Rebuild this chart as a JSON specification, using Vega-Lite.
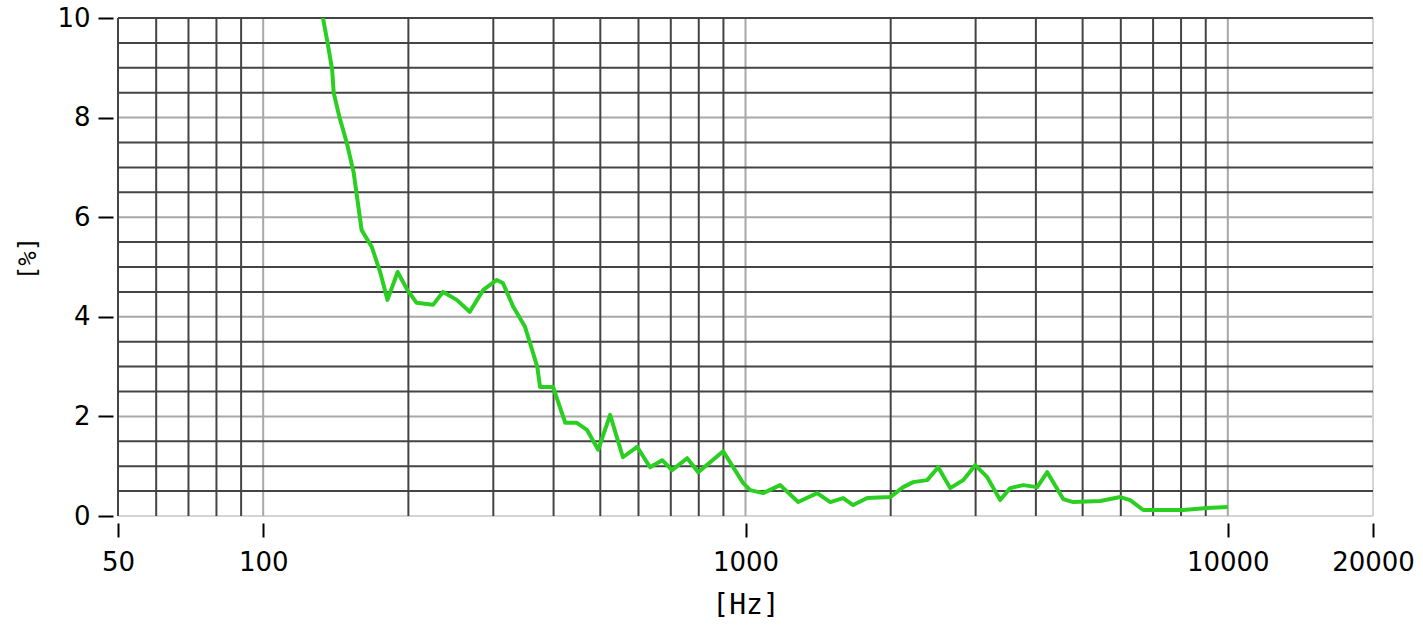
{
  "$schema": "https://vega.github.io/schema/vega-lite/v6.json",
  "autosize": "none",
  "width": 1255,
  "height": 498,
  "padding": {"left": 118, "top": 18, "right": 50, "bottom": 115},
  "background": "white",
  "config": {"view": {"stroke": null}},
  "datasets": {
    "darkV": [{"f": 50}, {"f": 60}, {"f": 70}, {"f": 80}, {"f": 90}, {"f": 200}, {"f": 300}, {"f": 400}, {"f": 500}, {"f": 600}, {"f": 700}, {"f": 800}, {"f": 900}, {"f": 2000}, {"f": 3000}, {"f": 4000}, {"f": 5000}, {"f": 6000}, {"f": 7000}, {"f": 8000}, {"f": 9000}],
    "grayV": [{"f": 100}, {"f": 1000}, {"f": 10000}],
    "edgeV": [{"f": 20000}],
    "darkH": [{"v": 0.5}, {"v": 1}, {"v": 1.5}, {"v": 2.5}, {"v": 3}, {"v": 3.5}, {"v": 4.5}, {"v": 5}, {"v": 5.5}, {"v": 6.5}, {"v": 7}, {"v": 7.5}, {"v": 8.5}, {"v": 9}, {"v": 9.5}, {"v": 10}],
    "grayH": [{"v": 2}, {"v": 4}, {"v": 6}, {"v": 8}],
    "edgeH": [{"v": 0}],
    "curve": [
      {"f": 133, "v": 10.0}, {"f": 136, "v": 9.5}, {"f": 139, "v": 8.96}, {"f": 140, "v": 8.5}, {"f": 144, "v": 8.0},
      {"f": 149, "v": 7.5}, {"f": 154, "v": 6.9}, {"f": 160, "v": 5.74}, {"f": 168, "v": 5.4}, {"f": 175, "v": 4.88},
      {"f": 181, "v": 4.34}, {"f": 190, "v": 4.9}, {"f": 199, "v": 4.54}, {"f": 208, "v": 4.28}, {"f": 225, "v": 4.24},
      {"f": 236, "v": 4.5}, {"f": 252, "v": 4.34}, {"f": 268, "v": 4.1}, {"f": 286, "v": 4.54}, {"f": 305, "v": 4.74},
      {"f": 314, "v": 4.68}, {"f": 330, "v": 4.2}, {"f": 349, "v": 3.8}, {"f": 370, "v": 3.0}, {"f": 375, "v": 2.59},
      {"f": 399, "v": 2.59}, {"f": 423, "v": 1.87}, {"f": 447, "v": 1.87}, {"f": 469, "v": 1.73}, {"f": 495, "v": 1.33},
      {"f": 524, "v": 2.03}, {"f": 557, "v": 1.18}, {"f": 596, "v": 1.39}, {"f": 634, "v": 0.98}, {"f": 672, "v": 1.12},
      {"f": 704, "v": 0.92}, {"f": 757, "v": 1.16}, {"f": 798, "v": 0.88}, {"f": 899, "v": 1.3}, {"f": 989, "v": 0.66},
      {"f": 1023, "v": 0.52}, {"f": 1088, "v": 0.46}, {"f": 1180, "v": 0.62}, {"f": 1286, "v": 0.28}, {"f": 1408, "v": 0.46},
      {"f": 1499, "v": 0.28}, {"f": 1594, "v": 0.36}, {"f": 1672, "v": 0.22}, {"f": 1788, "v": 0.36}, {"f": 1995, "v": 0.38},
      {"f": 2123, "v": 0.58}, {"f": 2227, "v": 0.68}, {"f": 2381, "v": 0.72}, {"f": 2509, "v": 0.98}, {"f": 2657, "v": 0.56},
      {"f": 2827, "v": 0.72}, {"f": 2994, "v": 1.02}, {"f": 3171, "v": 0.78}, {"f": 3373, "v": 0.32}, {"f": 3538, "v": 0.56},
      {"f": 3765, "v": 0.62}, {"f": 4025, "v": 0.58}, {"f": 4223, "v": 0.88}, {"f": 4558, "v": 0.34}, {"f": 4781, "v": 0.28},
      {"f": 5439, "v": 0.3}, {"f": 5984, "v": 0.38}, {"f": 6275, "v": 0.32}, {"f": 6678, "v": 0.12}, {"f": 8084, "v": 0.12},
      {"f": 9066, "v": 0.16}, {"f": 10000, "v": 0.18}
    ]
  },
  "encoding": {
    "x": {
      "field": "f", "type": "quantitative",
      "scale": {"type": "log", "domain": [50, 20000]},
      "axis": {
        "values": [50, 100, 1000, 10000, 20000],
        "format": "d",
        "title": "[Hz]",
        "grid": false, "domain": false,
        "offset": 7, "tickSize": 14, "tickWidth": 2, "tickColor": "#000000",
        "labelPadding": 12, "labelFont": "DejaVu Sans", "labelFontSize": 26, "labelColor": "#000000",
        "labelFlush": false, "labelOverlap": false,
        "titleFont": "DejaVu Sans Mono", "titleFontSize": 28, "titleFontWeight": "normal", "titleColor": "#000000", "titlePadding": 16
      }
    },
    "y": {
      "field": "v", "type": "quantitative",
      "scale": {"domain": [0, 10]},
      "axis": {
        "values": [0, 2, 4, 6, 8, 10],
        "title": "[%]",
        "grid": false, "domain": false,
        "offset": 5, "tickSize": 15, "tickWidth": 2, "tickColor": "#000000",
        "labelPadding": 8, "labelFont": "DejaVu Sans", "labelFontSize": 26, "labelColor": "#000000",
        "labelFlush": false, "labelOverlap": false,
        "titleFont": "DejaVu Sans Mono", "titleFontSize": 24, "titleFontWeight": "normal", "titleColor": "#000000", "titlePadding": 16,
        "titleY": 240
      }
    }
  },
  "layer": [
    {
      "data": {"name": "grayH"},
      "mark": {"type": "rule", "color": "#a8a8a8", "strokeWidth": 2},
      "encoding": {"x": null}
    },
    {
      "data": {"name": "edgeH"},
      "mark": {"type": "rule", "color": "#d4d4d4", "strokeWidth": 2},
      "encoding": {"x": null}
    },
    {
      "data": {"name": "grayV"},
      "mark": {"type": "rule", "color": "#a8a8a8", "strokeWidth": 2},
      "encoding": {"y": null}
    },
    {
      "data": {"name": "edgeV"},
      "mark": {"type": "rule", "color": "#d4d4d4", "strokeWidth": 2},
      "encoding": {"y": null}
    },
    {
      "data": {"name": "darkH"},
      "mark": {"type": "rule", "color": "#444444", "strokeWidth": 2},
      "encoding": {"x": null}
    },
    {
      "data": {"name": "darkV"},
      "mark": {"type": "rule", "color": "#444444", "strokeWidth": 2},
      "encoding": {"y": null}
    },
    {
      "data": {"name": "curve"},
      "mark": {"type": "line", "color": "#2bcf22", "strokeWidth": 4, "clip": true, "strokeJoin": "round"},
      "encoding": {}
    }
  ]
}
